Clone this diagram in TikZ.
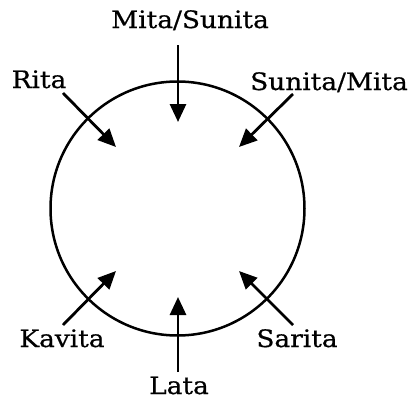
\documentclass[tikz,border=0pt]{standalone}
\usepackage{fontspec}
\setmainfont[FakeStretch=1.1,FakeBold=0.6]{DejaVu Serif}
\usetikzlibrary{arrows.meta}
\begin{document}
\begin{tikzpicture}[x=1pt,y=-1pt,
  lbl/.style={anchor=base,inner sep=0pt,font=\fontsize{24}{27}\selectfont},
  arr/.style={line width=2.8pt,-{Triangle[length=18pt,width=16pt]}}]
\useasboundingbox (0,0) rectangle (413,399);
\draw[line width=2.5pt] (177.5,208.5) circle[radius=127];
\node[lbl] (mita) at (190,28) {Mita/Sunita};
\node[lbl] (rita) at (39,88) {Rita};
\node[lbl] (sunita) at (329,90) {Sunita/Mita};
\node[lbl] (kavita) at (62,347) {Kavita};
\node[lbl] (sarita) at (297,347) {Sarita};
\node[lbl] (lata) at (179,394) {Lata};
\coordinate (m1) at (178,45); \coordinate (m2) at (178,122);
\coordinate (r1) at (63,93); \coordinate (r2) at (116,147);
\coordinate (s1) at (293,94); \coordinate (s2) at (239,147);
\coordinate (k1) at (63,325); \coordinate (k2) at (116,271);
\coordinate (l1) at (178,372); \coordinate (l2) at (178,297);
\coordinate (a1) at (293,325); \coordinate (a2) at (239,271);
\draw[arr] (m1) -- (m2);
\draw[arr] (r1) -- (r2);
\draw[arr] (s1) -- (s2);
\draw[arr] (k1) -- (k2);
\draw[arr] (l1) -- (l2);
\draw[arr] (a1) -- (a2);
\end{tikzpicture}
\end{document}
